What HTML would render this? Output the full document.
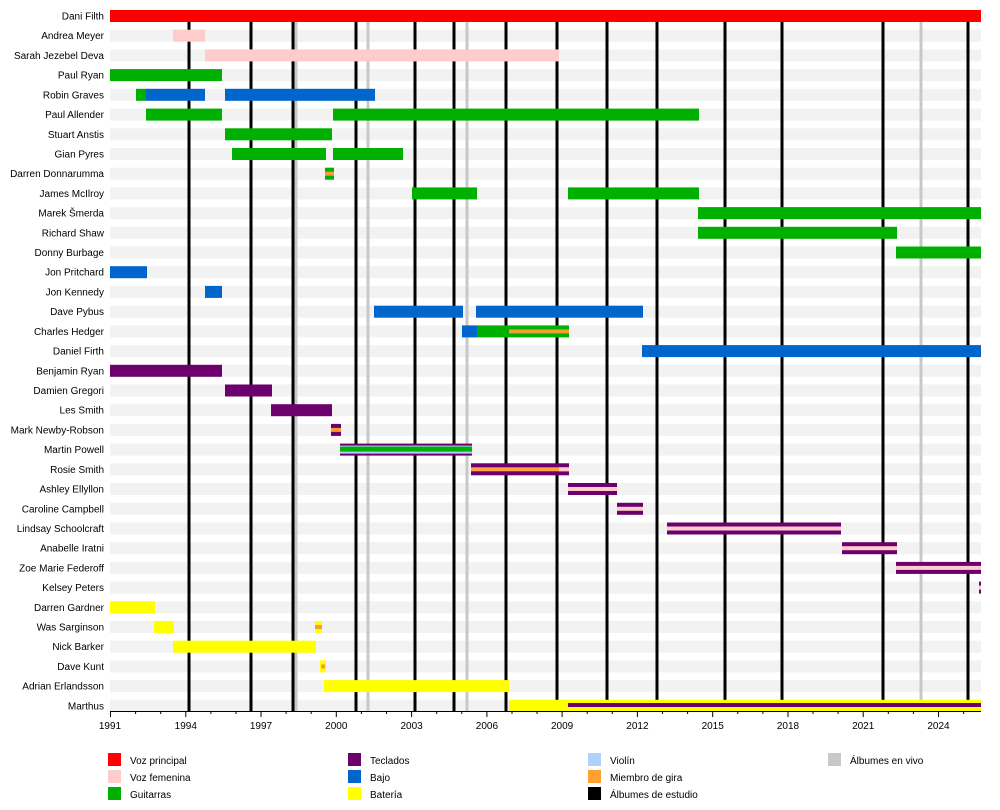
<!DOCTYPE html>
<html><head><meta charset="utf-8"><style>
body{margin:0;background:#fff;}
svg{display:block;font-family:"Liberation Sans",sans-serif;}
text{font-size:10px;fill:#000;}
</style></head><body>
<svg width="1000" height="810" viewBox="0 0 1000 810">
<!-- stripes -->
<g fill="#f2f2f2">
<rect x="110" y="10" width="871" height="12"/><rect x="110" y="29.7" width="871" height="12"/><rect x="110" y="49.4" width="871" height="12"/><rect x="110" y="69.1" width="871" height="12"/><rect x="110" y="88.8" width="871" height="12"/><rect x="110" y="108.6" width="871" height="12"/><rect x="110" y="128.3" width="871" height="12"/><rect x="110" y="148" width="871" height="12"/><rect x="110" y="167.7" width="871" height="12"/><rect x="110" y="187.4" width="871" height="12"/><rect x="110" y="207.1" width="871" height="12"/><rect x="110" y="226.8" width="871" height="12"/><rect x="110" y="246.5" width="871" height="12"/><rect x="110" y="266.2" width="871" height="12"/><rect x="110" y="285.9" width="871" height="12"/><rect x="110" y="305.7" width="871" height="12"/><rect x="110" y="325.4" width="871" height="12"/><rect x="110" y="345.1" width="871" height="12"/><rect x="110" y="364.8" width="871" height="12"/><rect x="110" y="384.5" width="871" height="12"/><rect x="110" y="404.2" width="871" height="12"/><rect x="110" y="423.9" width="871" height="12"/><rect x="110" y="443.6" width="871" height="12"/><rect x="110" y="463.3" width="871" height="12"/><rect x="110" y="483" width="871" height="12"/><rect x="110" y="502.8" width="871" height="12"/><rect x="110" y="522.5" width="871" height="12"/><rect x="110" y="542.2" width="871" height="12"/><rect x="110" y="561.9" width="871" height="12"/><rect x="110" y="581.6" width="871" height="12"/><rect x="110" y="601.3" width="871" height="12"/><rect x="110" y="621" width="871" height="12"/><rect x="110" y="640.7" width="871" height="12"/><rect x="110" y="660.4" width="871" height="12"/><rect x="110" y="680.1" width="871" height="12"/><rect x="110" y="699.8" width="871" height="12"/>
</g>
<!-- live albums -->
<g stroke="#c8c8c8" stroke-width="3">
<line x1="296" y1="22" x2="296" y2="711"/><line x1="368" y1="22" x2="368" y2="711"/><line x1="467" y1="22" x2="467" y2="711"/><line x1="921" y1="22" x2="921" y2="711"/>
</g>
<!-- studio albums -->
<g stroke="#000" stroke-width="3">
<line x1="189" y1="22" x2="189" y2="711"/><line x1="251" y1="22" x2="251" y2="711"/><line x1="293" y1="22" x2="293" y2="711"/><line x1="356" y1="22" x2="356" y2="711"/><line x1="415" y1="22" x2="415" y2="711"/><line x1="454" y1="22" x2="454" y2="711"/><line x1="506" y1="22" x2="506" y2="711"/><line x1="557" y1="22" x2="557" y2="711"/><line x1="607" y1="22" x2="607" y2="711"/><line x1="657" y1="22" x2="657" y2="711"/><line x1="725" y1="22" x2="725" y2="711"/><line x1="782" y1="22" x2="782" y2="711"/><line x1="883" y1="22" x2="883" y2="711"/><line x1="968" y1="22" x2="968" y2="711"/>
</g>
<!-- bars -->
<rect x="110" y="10" width="871" height="12" fill="#ff0000"/>
<rect x="173" y="29.7" width="32" height="12" fill="#ffcccc"/>
<rect x="205" y="49.4" width="354" height="12" fill="#ffcccc"/>
<g fill="#00b000">
<rect x="110" y="69.1" width="112" height="12"/>
<rect x="136" y="88.8" width="10" height="12"/>
<rect x="146" y="108.6" width="76" height="12"/><rect x="333" y="108.6" width="366" height="12"/>
<rect x="225" y="128.3" width="107" height="12"/>
<rect x="232" y="148" width="94" height="12"/><rect x="333" y="148" width="70" height="12"/>
<rect x="325" y="167.7" width="9" height="12"/>
<rect x="412" y="187.4" width="65" height="12"/><rect x="568" y="187.4" width="131" height="12"/>
<rect x="698" y="207.1" width="283" height="12"/>
<rect x="698" y="226.8" width="199" height="12"/>
<rect x="896" y="246.5" width="85" height="12"/>
<rect x="477" y="325.4" width="92" height="12"/>
</g>
<rect x="325" y="171.7" width="9" height="4" fill="#ff9933"/>
<rect x="509" y="329.4" width="60" height="4" fill="#f0a030"/>
<g fill="#0066cc">
<rect x="146" y="88.8" width="59" height="12"/><rect x="225" y="88.8" width="150" height="12"/>
<rect x="110" y="266.2" width="37" height="12"/>
<rect x="205" y="285.9" width="17" height="12"/>
<rect x="374" y="305.7" width="89" height="12"/><rect x="476" y="305.7" width="167" height="12"/>
<rect x="462" y="325.4" width="15" height="12"/>
<rect x="642" y="345.1" width="339" height="12"/>
</g>
<g fill="#6c006c">
<rect x="110" y="364.8" width="112" height="12"/>
<rect x="225" y="384.5" width="47" height="12"/>
<rect x="271" y="404.2" width="61" height="12"/>
<rect x="331" y="423.9" width="10" height="12"/>
<rect x="340" y="443.6" width="132" height="12"/>
<rect x="471" y="463.3" width="98" height="12"/>
<rect x="568" y="483" width="49" height="12"/>
<rect x="617" y="502.8" width="26" height="12"/>
<rect x="667" y="522.5" width="174" height="12"/>
<rect x="842" y="542.2" width="55" height="12"/>
<rect x="896" y="561.9" width="85" height="12"/>
<rect x="979" y="581.6" width="2" height="12"/>
</g>
<rect x="331" y="427.9" width="10" height="4" fill="#ff9933"/>
<rect x="340" y="445.6" width="132" height="8" fill="#b0d0ff"/>
<rect x="340" y="446.6" width="132" height="5" fill="#00b000"/>
<rect x="471" y="467.3" width="98" height="4" fill="#ffa040"/>
<rect x="559" y="467.3" width="10" height="4" fill="#ffcccc"/>
<g fill="#ffcccc">
<rect x="568" y="487" width="49" height="4"/><rect x="617" y="506.8" width="26" height="4"/><rect x="667" y="526.5" width="174" height="4"/><rect x="842" y="546.2" width="55" height="4"/><rect x="896" y="565.9" width="85" height="4"/><rect x="979" y="585.6" width="2" height="4"/>
</g>
<g fill="#ffff00">
<rect x="110" y="601.3" width="45" height="12"/>
<rect x="154" y="621" width="20" height="12"/><rect x="315" y="621" width="7" height="12"/>
<rect x="173" y="640.7" width="143" height="12"/>
<rect x="320" y="660.4" width="6" height="12"/>
<rect x="324" y="680.1" width="185" height="12"/>
<rect x="509" y="699.8" width="472" height="12"/>
</g>
<rect x="315" y="625" width="7" height="4" fill="#ff9933"/>
<rect x="321" y="664.4" width="4" height="4" fill="#ff9933"/>
<rect x="568" y="703" width="413" height="4" fill="#6c006c"/>
<!-- labels -->
<g text-anchor="end">
<text x="104" y="19.5">Dani Filth</text><text x="104" y="39.2">Andrea Meyer</text><text x="104" y="58.9">Sarah Jezebel Deva</text><text x="104" y="78.6">Paul Ryan</text><text x="104" y="98.3">Robin Graves</text><text x="104" y="118.1">Paul Allender</text><text x="104" y="137.8">Stuart Anstis</text><text x="104" y="157.5">Gian Pyres</text><text x="104" y="177.2">Darren Donnarumma</text><text x="104" y="196.9">James McIlroy</text><text x="104" y="216.6">Marek Šmerda</text><text x="104" y="236.3">Richard Shaw</text><text x="104" y="256">Donny Burbage</text><text x="104" y="275.7">Jon Pritchard</text><text x="104" y="295.4">Jon Kennedy</text><text x="104" y="315.2">Dave Pybus</text><text x="104" y="334.9">Charles Hedger</text><text x="104" y="354.6">Daniel Firth</text><text x="104" y="374.3">Benjamin Ryan</text><text x="104" y="394">Damien Gregori</text><text x="104" y="413.7">Les Smith</text><text x="104" y="433.4">Mark Newby-Robson</text><text x="104" y="453.1">Martin Powell</text><text x="104" y="472.8">Rosie Smith</text><text x="104" y="492.5">Ashley Ellyllon</text><text x="104" y="512.3">Caroline Campbell</text><text x="104" y="532">Lindsay Schoolcraft</text><text x="104" y="551.7">Anabelle Iratni</text><text x="104" y="571.4">Zoe Marie Federoff</text><text x="104" y="591.1">Kelsey Peters</text><text x="104" y="610.8">Darren Gardner</text><text x="104" y="630.5">Was Sarginson</text><text x="104" y="650.2">Nick Barker</text><text x="104" y="669.9">Dave Kunt</text><text x="104" y="689.6">Adrian Erlandsson</text><text x="104" y="709.3">Marthus</text>
</g>
<!-- axis -->
<line x1="110" y1="711.5" x2="981" y2="711.5" stroke="#000" stroke-width="1"/>
<g stroke="#000" stroke-width="1">
<line x1="110.5" y1="711" x2="110.5" y2="717"/><line x1="135.6" y1="711" x2="135.6" y2="714"/><line x1="160.7" y1="711" x2="160.7" y2="714"/><line x1="185.8" y1="711" x2="185.8" y2="717"/><line x1="210.9" y1="711" x2="210.9" y2="714"/><line x1="236" y1="711" x2="236" y2="714"/><line x1="261" y1="711" x2="261" y2="717"/><line x1="286.1" y1="711" x2="286.1" y2="714"/><line x1="311.2" y1="711" x2="311.2" y2="714"/><line x1="336.3" y1="711" x2="336.3" y2="717"/><line x1="361.4" y1="711" x2="361.4" y2="714"/><line x1="386.5" y1="711" x2="386.5" y2="714"/><line x1="411.6" y1="711" x2="411.6" y2="717"/><line x1="436.7" y1="711" x2="436.7" y2="714"/><line x1="461.8" y1="711" x2="461.8" y2="714"/><line x1="486.9" y1="711" x2="486.9" y2="717"/><line x1="512" y1="711" x2="512" y2="714"/><line x1="537" y1="711" x2="537" y2="714"/><line x1="562.1" y1="711" x2="562.1" y2="717"/><line x1="587.2" y1="711" x2="587.2" y2="714"/><line x1="612.3" y1="711" x2="612.3" y2="714"/><line x1="637.4" y1="711" x2="637.4" y2="717"/><line x1="662.5" y1="711" x2="662.5" y2="714"/><line x1="687.6" y1="711" x2="687.6" y2="714"/><line x1="712.7" y1="711" x2="712.7" y2="717"/><line x1="737.8" y1="711" x2="737.8" y2="714"/><line x1="762.9" y1="711" x2="762.9" y2="714"/><line x1="788" y1="711" x2="788" y2="717"/><line x1="813" y1="711" x2="813" y2="714"/><line x1="838.1" y1="711" x2="838.1" y2="714"/><line x1="863.2" y1="711" x2="863.2" y2="717"/><line x1="888.3" y1="711" x2="888.3" y2="714"/><line x1="913.4" y1="711" x2="913.4" y2="714"/><line x1="938.5" y1="711" x2="938.5" y2="717"/><line x1="963.6" y1="711" x2="963.6" y2="714"/>
</g>
<g text-anchor="middle">
<text x="110" y="729">1991</text><text x="185.8" y="729">1994</text><text x="261" y="729">1997</text><text x="336.3" y="729">2000</text><text x="411.6" y="729">2003</text><text x="486.9" y="729">2006</text><text x="562.1" y="729">2009</text><text x="637.4" y="729">2012</text><text x="712.7" y="729">2015</text><text x="788" y="729">2018</text><text x="863.2" y="729">2021</text><text x="938.5" y="729">2024</text>
</g>
<!-- legend -->
<rect x="108" y="753" width="13" height="13" fill="#ff0000"/><text x="130" y="764">Voz principal</text>
<rect x="108" y="770" width="13" height="13" fill="#ffcccc"/><text x="130" y="781">Voz femenina</text>
<rect x="108" y="787" width="13" height="13" fill="#00b000"/><text x="130" y="798">Guitarras</text>
<rect x="348" y="753" width="13" height="13" fill="#6c006c"/><text x="370" y="764">Teclados</text>
<rect x="348" y="770" width="13" height="13" fill="#0066cc"/><text x="370" y="781">Bajo</text>
<rect x="348" y="787" width="13" height="13" fill="#ffff00"/><text x="370" y="798">Batería</text>
<rect x="588" y="753" width="13" height="13" fill="#b0d0ff"/><text x="610" y="764">Violín</text>
<rect x="588" y="770" width="13" height="13" fill="#ffa030"/><text x="610" y="781">Miembro de gira</text>
<rect x="588" y="787" width="13" height="13" fill="#000"/><text x="610" y="798">Álbumes de estudio</text>
<rect x="828" y="753" width="13" height="13" fill="#c8c8c8"/><text x="850" y="764">Álbumes en vivo</text>
</svg>
</body></html>
